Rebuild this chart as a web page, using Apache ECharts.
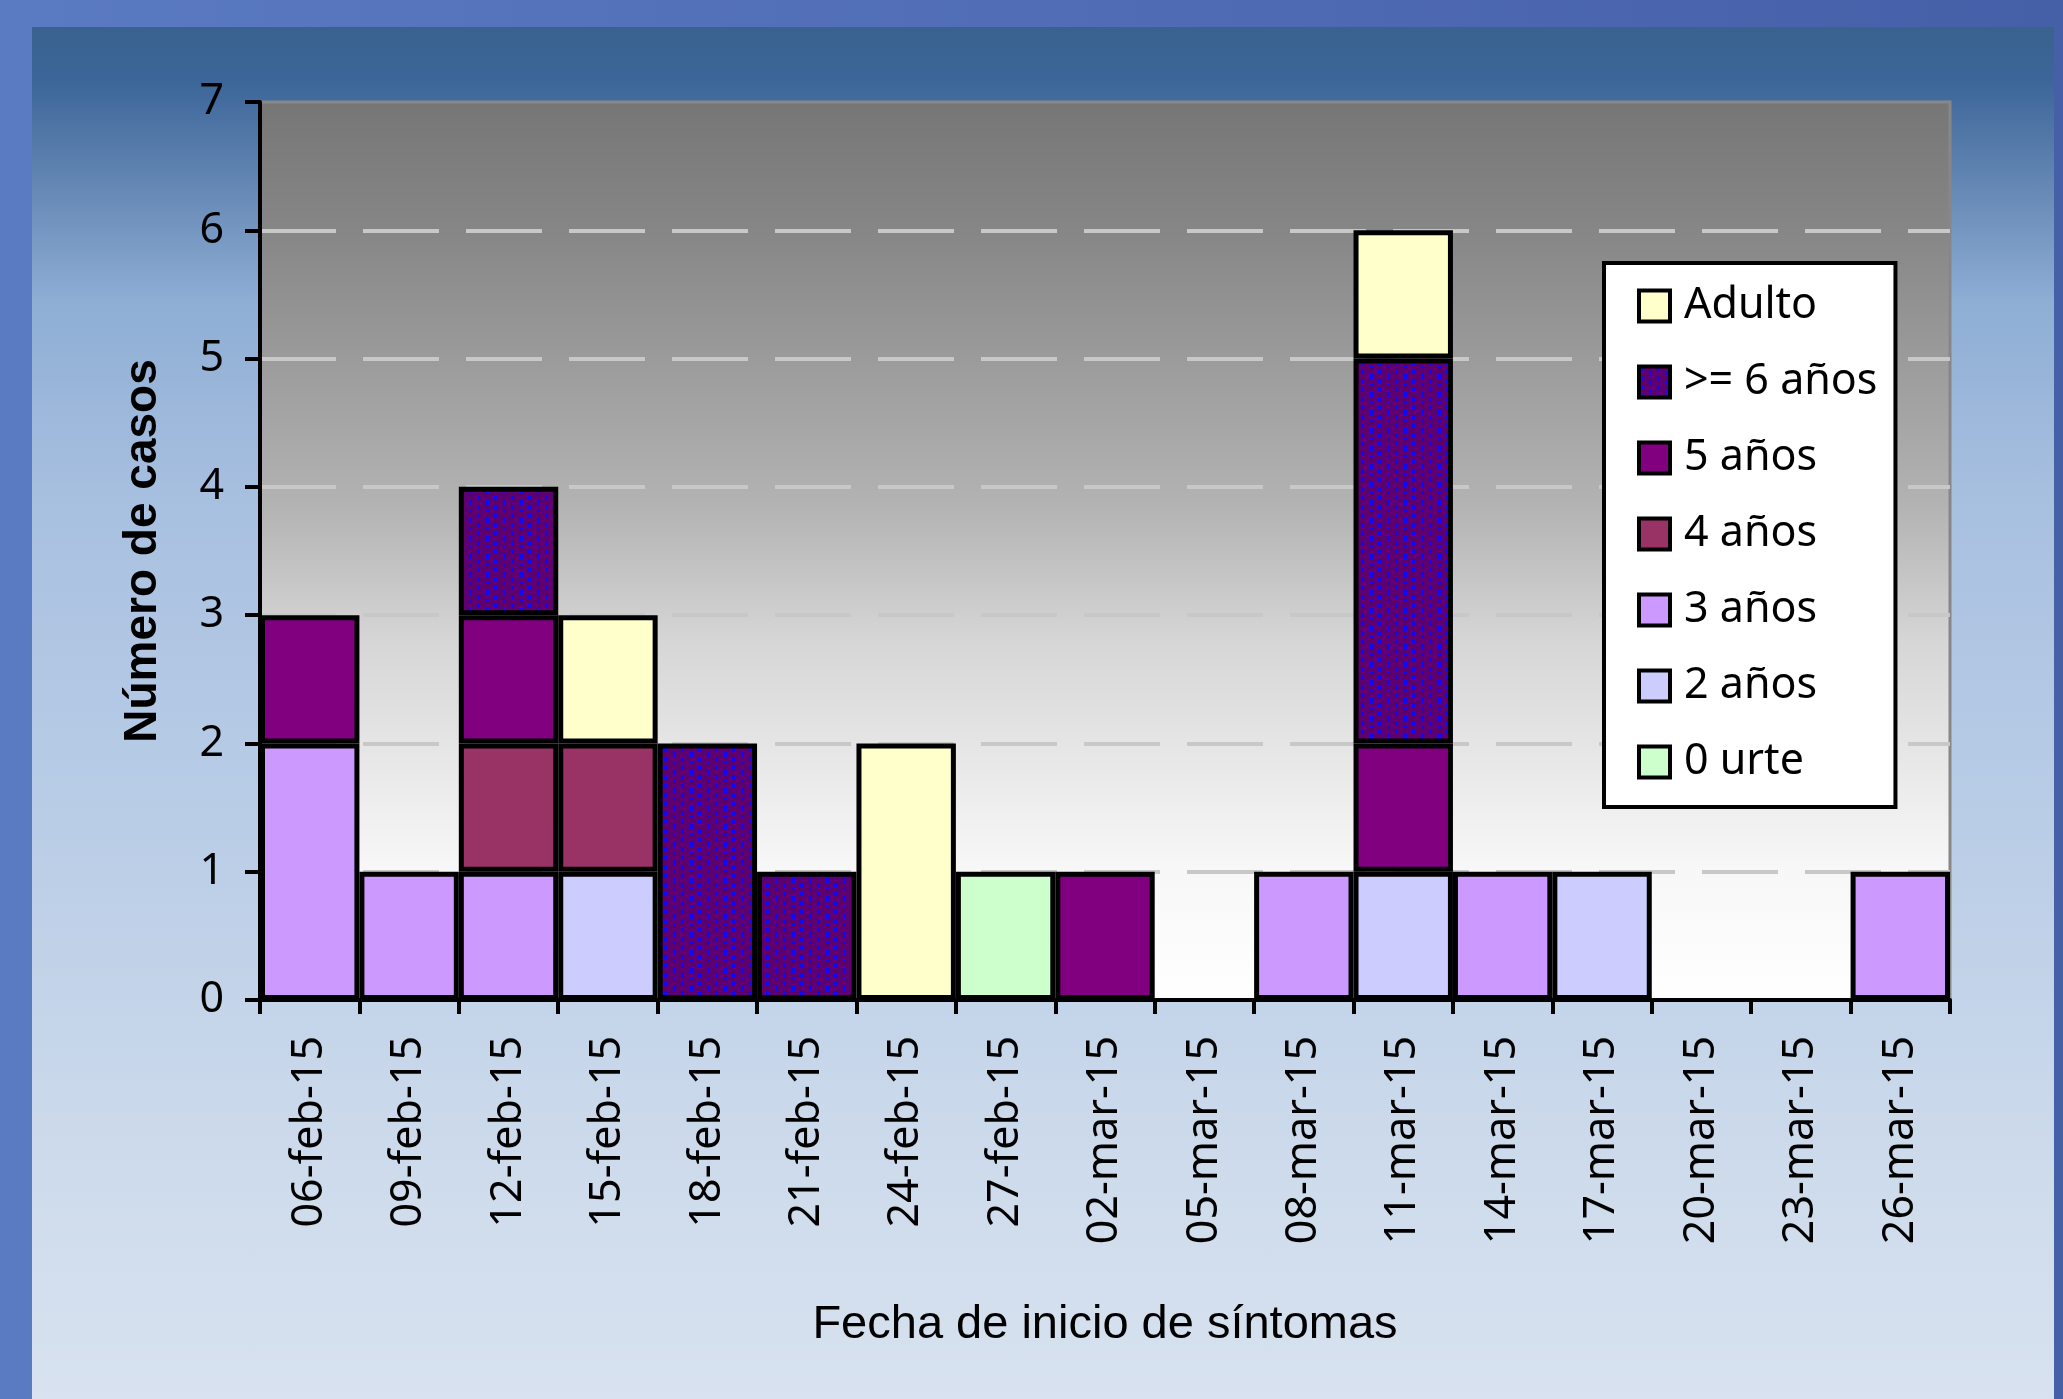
<!DOCTYPE html>
<html>
<head>
<meta charset="utf-8">
<script src="https://cdn.jsdelivr.net/npm/echarts@6/dist/echarts.min.js"></script>
<style>
  html, body { margin: 0; padding: 0; width: 2063px; height: 1399px; overflow: hidden; }
  body { background: linear-gradient(to right, #5a7ac2, #4660a8); position: relative; }
  #panel { position: absolute; left: 32px; top: 27px; width: 2022px; height: 1372px;
    background: linear-gradient(to bottom, #39628f 0%, #3c6699 4%, #6a8cb8 12.6%, #8eaed4 20%, #a8c0e0 34.5%, #b8cce6 56%, #cfdcec 85.5%, #d8e2f0 100%); }
  #chart { position: absolute; left: 0; top: 0; width: 2063px; height: 1399px; }
</style>
</head>
<body>
<div id="panel"></div>
<div id="chart"></div>
<script>
const categories = ['06-feb-15','09-feb-15','12-feb-15','15-feb-15','18-feb-15','21-feb-15','24-feb-15','27-feb-15','02-mar-15','05-mar-15','08-mar-15','11-mar-15','14-mar-15','17-mar-15','20-mar-15','23-mar-15','26-mar-15'];
const seriesNames = ['0 urte', '2 años', '3 años', '4 años', '5 años', '>= 6 años', 'Adulto'];
const urte0  = [0,0,0,0,0,0,0,1,0,0,0,0,0,0,0,0,0];
const anos2  = [0,0,0,1,0,0,0,0,0,0,0,1,0,1,0,0,0];
const anos3  = [2,1,1,0,0,0,0,0,0,0,1,0,1,0,0,0,1];
const anos4  = [0,0,1,1,0,0,0,0,0,0,0,0,0,0,0,0,0];
const anos5  = [1,0,1,0,0,0,0,0,1,0,0,1,0,0,0,0,0];
const anos6  = [0,0,1,0,2,1,0,0,0,0,0,3,0,0,0,0,0];
const adulto = [0,0,0,1,0,0,2,0,0,0,0,1,0,0,0,0,0];
const yTicks = [0,1,2,3,4,5,6,7];

// dotted pattern for ">= 6 años"
const pc = document.createElement('canvas');
pc.width = 17; pc.height = 9;
const px = pc.getContext('2d');
px.fillStyle = '#5f0070'; px.fillRect(0,0,17,9);
px.fillStyle = '#0a0aff';
px.fillRect(1,1,3,4);
px.fillRect(10,5,3,3);
px.fillRect(10,0,3,1);
const patternFill = { image: pc, repeat: 'repeat' };

const colors = ['#ccffcc', '#ccccff', '#cc99ff', '#993366', '#800080', patternFill, '#ffffcc'];
const values = [urte0, anos2, anos3, anos4, anos5, anos6, adulto];

const series = seriesNames.map((n, i) => ({
  name: n,
  type: 'bar',
  stack: 'total',
  barCategoryGap: '0%',
  barGap: '0%',
  data: values[i].map(v => v === 0 ? null : v),
  itemStyle: { color: colors[i], borderColor: '#000', borderWidth: 5 },
  emphasis: { disabled: true }
}));

const chart = echarts.init(document.getElementById('chart'), null, { renderer: 'canvas' });
chart.setOption({
  animation: false,
  backgroundColor: 'transparent',
  grid: {
    left: 260, right: 113, top: 102, bottom: 399,
    show: true,
    borderColor: '#878787', borderWidth: 3,
    backgroundColor: { type: 'linear', x: 0, y: 0, x2: 0, y2: 1, colorStops: [
      { offset: 0, color: '#767676' },
      { offset: 0.15, color: '#878787' },
      { offset: 0.45, color: '#b3b3b3' },
      { offset: 0.6, color: '#d6d6d6' },
      { offset: 0.85, color: '#f7f7f7' },
      { offset: 1, color: '#ffffff' }
    ]}
  },
  legend: {
    data: seriesNames.slice().reverse(),
    orient: 'vertical',
    left: 1604, top: 263,
    backgroundColor: '#ffffff',
    borderColor: '#000', borderWidth: 4,
    padding: [20, 18, 22, 33],
    itemWidth: 31, itemHeight: 31, itemGap: 30,
    icon: 'rect',
    selectedMode: false,
    itemStyle: { borderColor: '#000', borderWidth: 4 },
    textStyle: { fontFamily: 'Noto Sans', fontSize: 43, color: '#000', lineHeight: 46, padding: [0, 0, 0, 9] }
  },
  xAxis: {
    type: 'category',
    data: categories,
    boundaryGap: true,
    name: 'Fecha de inicio de síntomas',
    nameLocation: 'middle',
    nameGap: 302,
    nameTextStyle: { fontFamily: 'Liberation Sans', fontSize: 47, color: '#000' },
    axisLine: { lineStyle: { color: '#000', width: 4 } },
    axisTick: { show: true, length: 14, lineStyle: { color: '#000', width: 4 }, alignWithLabel: false },
    axisLabel: { interval: 0, rotate: 90, margin: 36, fontFamily: 'Noto Sans', fontSize: 43, color: '#000' },
    splitLine: { show: false }
  },
  yAxis: {
    type: 'value',
    min: yTicks[0], max: yTicks[yTicks.length - 1], interval: 1,
    name: 'Número de casos',
    nameLocation: 'middle',
    nameRotate: 90,
    nameGap: 94,
    nameTextStyle: { fontFamily: 'Liberation Sans', fontWeight: 'bold', fontSize: 46, color: '#000' },
    axisLine: { show: true, lineStyle: { color: '#000', width: 4 } },
    axisTick: { show: true, length: 15, lineStyle: { color: '#000', width: 4 } },
    axisLabel: { margin: 36, fontFamily: 'Noto Sans', fontSize: 43, color: '#000' },
    splitLine: { show: true, showMinLine: false, showMaxLine: false, lineStyle: { color: '#c8c8c8', width: 4, type: [76, 27] } }
  },
  series: series
});
</script>
</body>
</html>
